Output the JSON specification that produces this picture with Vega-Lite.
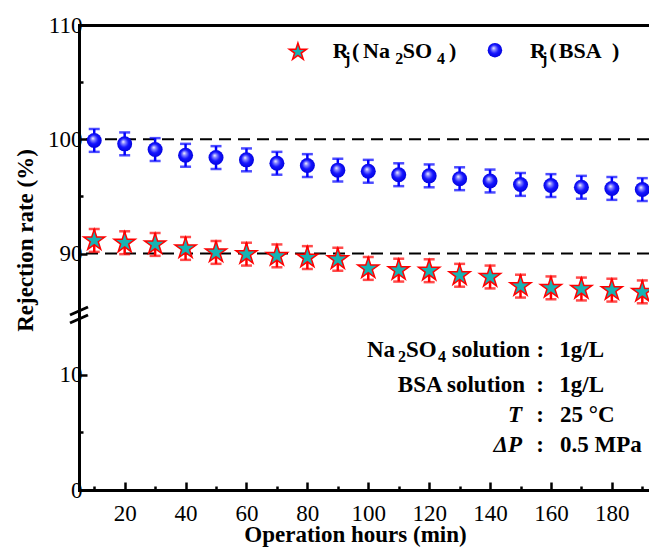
{
  "$schema": "https://vega.github.io/schema/vega-lite/v6.json",
  "width": 570,
  "height": 465,
  "autosize": "none",
  "padding": {"left": 79, "top": 25, "right": 0, "bottom": 62},
  "background": "white",
  "config": {
    "view": {"stroke": null},
    "font": "Liberation Serif",
    "text": {"font": "Liberation Serif"},
    "axis": {
      "domainColor": "black", "domainWidth": 3, "domainCap": "square",
      "tickColor": "black", "tickWidth": 2.5,
      "labelFont": "Liberation Serif", "labelFontSize": 23, "labelColor": "black",
      "titleFont": "Liberation Serif", "titleFontSize": 23, "titleFontWeight": "bold", "titleColor": "black",
      "grid": false
    }
  },
  "datasets": {
    "rej": [
      {"t": 10, "series": "BSA", "r": 99.9, "lo": 98.9, "hi": 100.9},
      {"t": 20, "series": "BSA", "r": 99.6, "lo": 98.6, "hi": 100.6},
      {"t": 30, "series": "BSA", "r": 99.1, "lo": 98.1, "hi": 100.1},
      {"t": 40, "series": "BSA", "r": 98.6, "lo": 97.6, "hi": 99.6},
      {"t": 50, "series": "BSA", "r": 98.4, "lo": 97.4, "hi": 99.4},
      {"t": 60, "series": "BSA", "r": 98.2, "lo": 97.2, "hi": 99.2},
      {"t": 70, "series": "BSA", "r": 97.9, "lo": 96.9, "hi": 98.9},
      {"t": 80, "series": "BSA", "r": 97.7, "lo": 96.7, "hi": 98.7},
      {"t": 90, "series": "BSA", "r": 97.3, "lo": 96.3, "hi": 98.3},
      {"t": 100, "series": "BSA", "r": 97.2, "lo": 96.2, "hi": 98.2},
      {"t": 110, "series": "BSA", "r": 96.9, "lo": 95.9, "hi": 97.9},
      {"t": 120, "series": "BSA", "r": 96.8, "lo": 95.8, "hi": 97.8},
      {"t": 130, "series": "BSA", "r": 96.55, "lo": 95.55, "hi": 97.55},
      {"t": 140, "series": "BSA", "r": 96.35, "lo": 95.35, "hi": 97.35},
      {"t": 150, "series": "BSA", "r": 96.05, "lo": 95.05, "hi": 97.05},
      {"t": 160, "series": "BSA", "r": 95.95, "lo": 94.95, "hi": 96.95},
      {"t": 170, "series": "BSA", "r": 95.8, "lo": 94.8, "hi": 96.8},
      {"t": 180, "series": "BSA", "r": 95.7, "lo": 94.7, "hi": 96.7},
      {"t": 190, "series": "BSA", "r": 95.6, "lo": 94.6, "hi": 96.6},
      {"t": 10, "series": "Na2SO4", "r": 91.15, "lo": 90.15, "hi": 92.15},
      {"t": 20, "series": "Na2SO4", "r": 90.95, "lo": 89.95, "hi": 91.95},
      {"t": 30, "series": "Na2SO4", "r": 90.8, "lo": 89.8, "hi": 91.8},
      {"t": 40, "series": "Na2SO4", "r": 90.45, "lo": 89.45, "hi": 91.45},
      {"t": 50, "series": "Na2SO4", "r": 90.1, "lo": 89.1, "hi": 91.1},
      {"t": 60, "series": "Na2SO4", "r": 89.95, "lo": 88.95, "hi": 90.95},
      {"t": 70, "series": "Na2SO4", "r": 89.8, "lo": 88.8, "hi": 90.8},
      {"t": 80, "series": "Na2SO4", "r": 89.65, "lo": 88.65, "hi": 90.65},
      {"t": 90, "series": "Na2SO4", "r": 89.5, "lo": 88.5, "hi": 90.5},
      {"t": 100, "series": "Na2SO4", "r": 88.7, "lo": 87.7, "hi": 89.7},
      {"t": 110, "series": "Na2SO4", "r": 88.55, "lo": 87.55, "hi": 89.55},
      {"t": 120, "series": "Na2SO4", "r": 88.5, "lo": 87.5, "hi": 89.5},
      {"t": 130, "series": "Na2SO4", "r": 88.1, "lo": 87.1, "hi": 89.1},
      {"t": 140, "series": "Na2SO4", "r": 87.95, "lo": 86.95, "hi": 88.95},
      {"t": 150, "series": "Na2SO4", "r": 87.15, "lo": 86.15, "hi": 88.15},
      {"t": 160, "series": "Na2SO4", "r": 87.0, "lo": 86.0, "hi": 88.0},
      {"t": 170, "series": "Na2SO4", "r": 86.9, "lo": 85.9, "hi": 87.9},
      {"t": 180, "series": "Na2SO4", "r": 86.8, "lo": 85.8, "hi": 87.8},
      {"t": 190, "series": "Na2SO4", "r": 86.65, "lo": 85.65, "hi": 87.65}
    ]
  },
  "resolve": {"axis": {"x": "independent", "y": "independent"}},
  "layer": [
    {
      "data": {"values": [{"ref": 90}, {"ref": 100}]},
      "mark": {"type": "rule", "color": "black", "strokeWidth": 2, "strokeDash": [12, 7]},
      "encoding": {
        "y": {"field": "ref", "type": "quantitative",
          "scale": {"domain": [0, 14.5, 85.5, 110], "range": [465, 298, 280, 0], "nice": false, "zero": false},
          "axis": {"orient": "left", "values": [5, 95, 105], "tickSize": -4, "labels": false, "domain": false, "title": null}}
      }
    },
    {
      "data": {"name": "rej"},
      "mark": {"type": "rule", "strokeWidth": 2.5},
      "encoding": {
        "x": {"field": "t", "type": "quantitative", "scale": {"domain": [5, 192.2], "nice": false, "zero": false}, "axis": null},
        "y": {"field": "lo", "type": "quantitative", "axis": null},
        "y2": {"field": "hi"},
        "color": {"field": "series", "type": "nominal", "scale": {"domain": ["Na2SO4", "BSA"], "range": ["#ff0000", "#0000ff"]}, "legend": null}
      }
    },
    {
      "data": {"name": "rej"},
      "mark": {"type": "tick", "orient": "horizontal", "size": 11, "thickness": 2.5},
      "encoding": {
        "x": {"field": "t", "type": "quantitative", "axis": null},
        "y": {"field": "lo", "type": "quantitative", "axis": null},
        "color": {"field": "series", "type": "nominal", "legend": null}
      }
    },
    {
      "data": {"name": "rej"},
      "mark": {"type": "tick", "orient": "horizontal", "size": 11, "thickness": 2.5},
      "encoding": {
        "x": {"field": "t", "type": "quantitative", "axis": null},
        "y": {"field": "hi", "type": "quantitative", "axis": null},
        "color": {"field": "series", "type": "nominal", "legend": null}
      }
    },
    {
      "data": {"name": "rej"},
      "transform": [{"filter": "datum.series === 'BSA'"}],
      "mark": {"type": "point", "shape": "circle", "size": 225, "filled": true, "opacity": 1, "strokeWidth": 0,
        "fill": {"gradient": "radial", "x1": 0.4, "y1": 0.35, "r1": 0, "x2": 0.5, "y2": 0.5, "r2": 0.55,
          "stops": [{"offset": 0, "color": "#ffffff"}, {"offset": 0.22, "color": "#8a8aff"}, {"offset": 0.55, "color": "#1515ff"}, {"offset": 1, "color": "#0000d8"}]}},
      "encoding": {
        "x": {"field": "t", "type": "quantitative",
          "axis": {"orient": "bottom", "values": [20, 40, 60, 80, 100, 120, 140, 160, 180], "tickSize": -8, "labelPadding": 20,
            "labelFont": "Liberation Serif", "titleFont": "Liberation Serif",
            "title": "Operation hours (min)", "titleX": 276, "titleY": 51, "titleBaseline": "alphabetic", "titleAlign": "center", "titleAnchor": null}},
        "y": {"field": "r", "type": "quantitative",
          "axis": {"orient": "left", "values": [0, 10, 90, 100, 110], "tickSize": -8, "labelPadding": 5,
            "labelFont": "Liberation Serif", "titleFont": "Liberation Serif",
            "title": "Rejection rate (%)", "titleX": -54, "titleY": 215, "titleAngle": 270, "titleAlign": "center", "titleBaseline": "middle", "titleAnchor": null}}
      }
    },
    {
      "data": {"name": "rej"},
      "transform": [{"filter": "datum.series === 'Na2SO4'"}],
      "mark": {"type": "point", "shape": "M0,-1L0.2245,-0.309L0.951,-0.309L0.3633,0.118L0.5878,0.809L0,0.382L-0.5878,0.809L-0.3633,0.118L-0.951,-0.309L-0.2245,-0.309Z",
        "size": 490, "filled": true, "opacity": 1, "fill": "#17b3b3", "stroke": "#ff0000", "strokeWidth": 1.5},
      "encoding": {
        "x": {"field": "t", "type": "quantitative", "axis": null},
        "y": {"field": "r", "type": "quantitative", "axis": null}
      }
    },
    {
      "data": {"values": [{"x": 76.9, "y": 107.64}]},
      "mark": {"type": "point", "shape": "M0,-1L0.2245,-0.309L0.951,-0.309L0.3633,0.118L0.5878,0.809L0,0.382L-0.5878,0.809L-0.3633,0.118L-0.951,-0.309L-0.2245,-0.309Z",
        "size": 330, "filled": true, "opacity": 1, "fill": "#17b3b3", "stroke": "#ff0000", "strokeWidth": 1.5},
      "encoding": {
        "x": {"field": "x", "type": "quantitative", "axis": {"orient": "top", "ticks": false, "labels": false, "domain": true, "title": null}},
        "y": {"field": "y", "type": "quantitative", "axis": null}
      }
    },
    {
      "data": {"values": [{"x": 141.6, "y": 107.8}]},
      "mark": {"type": "point", "shape": "circle", "size": 210, "filled": true, "opacity": 1, "strokeWidth": 0,
        "fill": {"gradient": "radial", "x1": 0.4, "y1": 0.35, "r1": 0, "x2": 0.5, "y2": 0.5, "r2": 0.55,
          "stops": [{"offset": 0, "color": "#ffffff"}, {"offset": 0.22, "color": "#8a8aff"}, {"offset": 0.55, "color": "#1515ff"}, {"offset": 1, "color": "#0000d8"}]}},
      "encoding": {
        "x": {"field": "x", "type": "quantitative", "axis": null},
        "y": {"field": "y", "type": "quantitative", "axis": null}
      }
    },
    {
      "data": {"values": [
        {"x": 88.32, "y": 107.11, "s": "R"},
        {"x": 94.66, "y": 107.11, "s": "("},
        {"x": 98.27, "y": 107.11, "s": "Na"},
        {"x": 111.3, "y": 107.11, "s": "SO"},
        {"x": 126.5, "y": 107.11, "s": ")"},
        {"x": 153.12, "y": 107.11, "s": "R"},
        {"x": 159.4, "y": 107.11, "s": "("},
        {"x": 162.6, "y": 107.11, "s": "BSA"},
        {"x": 180.05, "y": 107.11, "s": ")"}
      ]},
      "mark": {"type": "text", "font": "Liberation Serif", "align": "left", "baseline": "alphabetic", "fontSize": 22, "fontWeight": "bold", "color": "black"},
      "encoding": {
        "x": {"field": "x", "type": "quantitative", "axis": null},
        "y": {"field": "y", "type": "quantitative", "axis": null},
        "text": {"field": "s"}
      }
    },
    {
      "data": {"values": [
        {"x": 92.33, "y": 106.59, "s": "j"},
        {"x": 108.9, "y": 106.59, "s": "2"},
        {"x": 122.6, "y": 106.59, "s": "4"},
        {"x": 157.03, "y": 106.59, "s": "j"},
        {"x": 109.77, "y": 11.11, "s": "2"},
        {"x": 122.9, "y": 11.11, "s": "4"}
      ]},
      "mark": {"type": "text", "font": "Liberation Serif", "align": "left", "baseline": "alphabetic", "fontSize": 16, "fontWeight": "bold", "color": "black"},
      "encoding": {
        "x": {"field": "x", "type": "quantitative", "axis": null},
        "y": {"field": "y", "type": "quantitative", "axis": null},
        "text": {"field": "s"}
      }
    },
    {
      "data": {"values": [
        {"x": 99.58, "y": 11.55, "s": "Na"},
        {"x": 112.39, "y": 11.55, "s": "SO"},
        {"x": 127.5, "y": 11.55, "s": "solution"},
        {"x": 162.74, "y": 11.55, "s": "1g/L"},
        {"x": 162.74, "y": 8.51, "s": "1g/L"},
        {"x": 162.97, "y": 5.93, "s": "25 °C"},
        {"x": 162.97, "y": 3.33, "s": "0.5 MPa"}
      ]},
      "mark": {"type": "text", "font": "Liberation Serif", "align": "left", "baseline": "alphabetic", "fontSize": 23, "fontWeight": "bold", "color": "black"},
      "encoding": {
        "x": {"field": "x", "type": "quantitative", "axis": null},
        "y": {"field": "y", "type": "quantitative", "axis": null},
        "text": {"field": "s"}
      }
    },
    {
      "data": {"values": [
        {"x": 156.5, "y": 11.55, "s": ":"},
        {"x": 156.4, "y": 8.51, "s": ":"},
        {"x": 156.4, "y": 5.93, "s": ":"},
        {"x": 156.4, "y": 3.33, "s": ":"}
      ]},
      "mark": {"type": "text", "font": "Liberation Serif", "align": "center", "baseline": "alphabetic", "fontSize": 23, "fontWeight": "bold", "color": "black"},
      "encoding": {
        "x": {"field": "x", "type": "quantitative", "axis": null},
        "y": {"field": "y", "type": "quantitative", "axis": null},
        "text": {"field": "s"}
      }
    },
    {
      "data": {"values": [
        {"x": 151.48, "y": 8.51, "s": "BSA solution"}
      ]},
      "mark": {"type": "text", "font": "Liberation Serif", "align": "right", "baseline": "alphabetic", "fontSize": 23, "fontWeight": "bold", "color": "black"},
      "encoding": {
        "x": {"field": "x", "type": "quantitative", "axis": null},
        "y": {"field": "y", "type": "quantitative", "axis": null},
        "text": {"field": "s"}
      }
    },
    {
      "data": {"values": [
        {"x": 150.49, "y": 5.93, "s": "T"},
        {"x": 150.49, "y": 3.33, "s": "ΔP"}
      ]},
      "mark": {"type": "text", "font": "Liberation Serif", "align": "right", "baseline": "alphabetic", "fontSize": 23, "fontWeight": "bold", "fontStyle": "italic", "color": "black"},
      "encoding": {
        "x": {"field": "x", "type": "quantitative", "axis": null},
        "y": {"field": "y", "type": "quantitative", "axis": null},
        "text": {"field": "s"}
      }
    },
    {
      "data": {"values": [
        {"xa": 2.04, "ya": 46.06, "xb": 7.96, "yb": 77.61},
        {"xa": 2.04, "ya": 14.5, "xb": 7.96, "yb": 46.06}
      ]},
      "mark": {"type": "rule", "color": "black", "strokeWidth": 3},
      "encoding": {
        "x": {"field": "xa", "type": "quantitative",
          "axis": {"orient": "bottom", "values": [10, 30, 50, 70, 90, 110, 130, 150, 170, 190], "tickSize": -4, "labels": false, "domain": false, "title": null}},
        "x2": {"field": "xb"},
        "y": {"field": "ya", "type": "quantitative", "axis": null},
        "y2": {"field": "yb"}
      }
    }
  ]
}
